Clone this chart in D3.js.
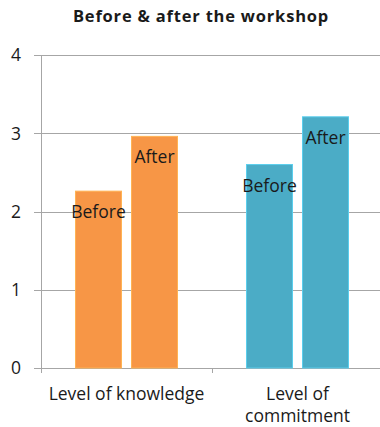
<!DOCTYPE html>
<html>
<head>
<meta charset="utf-8">
<script src="https://cdn.jsdelivr.net/npm/d3@7"></script>
<style>
  html, body { margin: 0; padding: 0; background: #fff; }
  svg { display: block; }
  text { font-family: "Open Sans", "Liberation Sans", Arial, sans-serif; fill: #1a1a1a; }
</style>
</head>
<body>
<svg id="chart" width="380" height="427"></svg>
<script>
// Chart data
const title = "Before & after the workshop";
const categories = ["Level of knowledge", "Level of commitment"];
const categoryLines = [["Level of knowledge"], ["Level of", "commitment"]];
const series = ["Before", "After"];
const values = [
  [2.26, 2.96],  // Level of knowledge: Before, After
  [2.60, 3.21]   // Level of commitment: Before, After
];
const colors = ["#F79646", "#4BACC6"];
const yTicks = [0, 1, 2, 3, 4];

const svg = d3.select("#chart");
const W = 380;
const margin = { top: 55, bottom: 368, left: 41, right: 383 };

const y = d3.scaleLinear().domain([0, 4]).range([margin.bottom, margin.top]);
const x0 = d3.scaleBand().domain(categories).range([margin.left, margin.right]).padding(0);
const x1 = d3.scaleBand().domain(series).range([0, x0.bandwidth()])
  .paddingInner(0.1786).paddingOuter(0.616);

// Title
svg.append("text")
  .attr("x", 201).attr("y", 22)
  .attr("text-anchor", "middle")
  .style("font-weight", "bold")
  .style("font-size", "16.5px")
  .style("letter-spacing", "0.8px")
  .text(title);

// Horizontal gridlines with left tick marks
const grid = svg.append("g");
grid.selectAll("line").data(yTicks).join("line")
  .attr("x1", margin.left - 7).attr("x2", W)
  .attr("y1", d => Math.round(y(d)) + 0.5).attr("y2", d => Math.round(y(d)) + 0.5)
  .attr("stroke", "#a6a6a6").attr("stroke-width", 1);

// Y tick labels
svg.append("g").selectAll("text").data(yTicks).join("text")
  .attr("x", 21).attr("y", d => y(d))
  .attr("dy", "0.36em")
  .attr("text-anchor", "end")
  .style("font-size", "17.5px")
  .text(d => d);

// Bars
const groups = svg.append("g").selectAll("g").data(categories).join("g")
  .attr("transform", c => `translate(${x0(c)},0)`);

groups.each(function(c, ci) {
  const g = d3.select(this);
  const data = series.map((s, si) => ({ s, v: values[ci][si] }));
  g.selectAll("rect").data(data).join("rect")
    .attr("x", d => x1(d.s))
    .attr("width", x1.bandwidth())
    .attr("y", d => y(d.v))
    .attr("height", d => y(0) - y(d.v))
    .attr("fill", colors[ci])
    .attr("stroke", d3.color(colors[ci]).brighter(0.5))
    .attr("stroke-width", 1);
  g.selectAll("text.lbl").data(data).join("text")
    .attr("class", "lbl")
    .attr("x", d => x1(d.s) + x1.bandwidth() / 2)
    .attr("y", d => y(d.v) + 27)
    .attr("text-anchor", "middle")
    .style("font-size", "17.5px")
    .text(d => d.s);
});

// Vertical axis line
svg.append("line")
  .attr("x1", margin.left + 0.5).attr("x2", margin.left + 0.5)
  .attr("y1", margin.top).attr("y2", margin.bottom + 5)
  .attr("stroke", "#a6a6a6");

// Category separator ticks
svg.append("g").selectAll("line").data(categories.slice(1)).join("line")
  .attr("x1", c => Math.round(x0(c)) + 0.5).attr("x2", c => Math.round(x0(c)) + 0.5)
  .attr("y1", margin.bottom).attr("y2", margin.bottom + 5)
  .attr("stroke", "#a6a6a6");

// Category labels
svg.append("g").selectAll("text").data(categories).join("text")
  .attr("text-anchor", "middle")
  .attr("x", c => x0(c) + x0.bandwidth() / 2)
  .attr("y", 400)
  .style("font-size", "17.5px")
  .each(function(c, i) {
    d3.select(this).selectAll("tspan").data(categoryLines[i]).join("tspan")
      .attr("x", x0(c) + x0.bandwidth() / 2)
      .attr("dy", (d, j) => j === 0 ? 0 : 22)
      .text(d => d);
  });
</script>
</body>
</html>
